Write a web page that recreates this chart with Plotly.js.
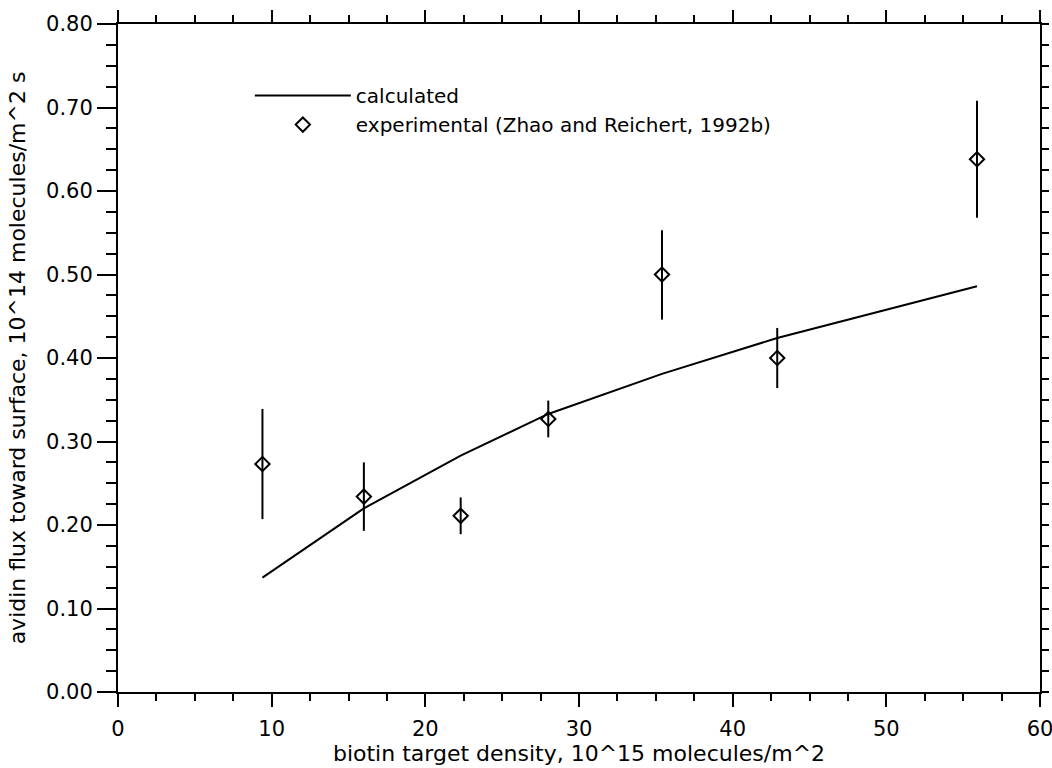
<!DOCTYPE html>
<html>
<head>
<meta charset="utf-8">
<script src="https://cdn.plot.ly/plotly-3.0.1.min.js"></script>
<style>
  html, body { margin: 0; padding: 0; background: #fff; }
  #chart { width: 1052px; height: 768px; }
</style>
</head>
<body>
<div id="chart"></div>
<script>
// Calculated curve
var calcX = [9.4, 16.0, 22.3, 28.0, 35.4, 42.9, 55.9];
var calcY = [0.137, 0.220, 0.283, 0.333, 0.381, 0.424, 0.486];

// Experimental points (Zhao and Reichert, 1992b)
var expX = [9.4, 16.0, 22.3, 28.0, 35.4, 42.9, 55.9];
var expY = [0.273, 0.234, 0.211, 0.327, 0.500, 0.400, 0.638];
var expErrPlus = [0.066, 0.041, 0.022, 0.022, 0.053, 0.036, 0.070];
var expErrMinus = [0.066, 0.041, 0.022, 0.022, 0.054, 0.036, 0.070];

var seriesNames = ["calculated", "experimental (Zhao and Reichert, 1992b)"];
var xTitle = "biotin target density, 10^15 molecules/m^2";
var yTitle = "avidin flux toward surface, 10^14 molecules/m^2 s";

var FONT = "DejaVu Sans, Verdana, sans-serif";

var traces = [
  {
    x: calcX, y: calcY, type: "scatter", mode: "lines",
    name: seriesNames[0],
    line: { color: "#000", width: 2 },
    hoverinfo: "skip"
  },
  {
    x: expX, y: expY, type: "scatter", mode: "markers",
    name: seriesNames[1],
    marker: { symbol: "diamond-open", size: 11, color: "#000", line: { color: "#000", width: 2 } },
    error_y: { type: "data", symmetric: false, array: expErrPlus, arrayminus: expErrMinus,
               color: "#000", thickness: 2, width: 0 },
    hoverinfo: "skip"
  },
  {
    x: [], y: [], type: "scatter", mode: "markers",
    xaxis: "x2", yaxis: "y2", showlegend: false, hoverinfo: "skip"
  }
];

var layout = {
  width: 1052, height: 768,
  paper_bgcolor: "#fff", plot_bgcolor: "#fff",
  margin: { l: 118, r: 12, t: 24, b: 76, pad: 0 },
  font: { family: FONT, color: "#000", size: 21 },
  showlegend: true,
  legend: {
    x: 0.143, y: 0.922, xanchor: "left", yanchor: "top",
    bgcolor: "rgba(0,0,0,0)", borderwidth: 0,
    font: { family: FONT, size: 20, color: "#000" },
    itemwidth: 96, tracegroupgap: 0
  },
  xaxis: {
    range: [0, 60], dtick: 10, tick0: 0,
    showline: true, linecolor: "#000", linewidth: 2,
    ticks: "outside", ticklen: 13, tickwidth: 2, tickcolor: "#000",
    minor: { dtick: 2.5, tick0: 0, ticks: "outside", ticklen: 7, tickwidth: 2, tickcolor: "#000", showgrid: false },
    showgrid: false, zeroline: false, ticklabeloverflow: "allow", ticklabelstandoff: 4,
    tickfont: { family: FONT, size: 21, color: "#000" },
    title: { text: xTitle, font: { family: FONT, size: 22, color: "#000" }, standoff: 0 }
  },
  yaxis: {
    range: [0, 0.8], dtick: 0.1, tick0: 0, tickformat: ".2f",
    showline: true, linecolor: "#000", linewidth: 2,
    ticks: "outside", ticklen: 19, tickwidth: 2, tickcolor: "#000",
    minor: { dtick: 0.025, tick0: 0, ticks: "outside", ticklen: 10, tickwidth: 2, tickcolor: "#000", showgrid: false },
    showgrid: false, zeroline: false, ticklabeloverflow: "allow",
    tickfont: { family: FONT, size: 21, color: "#000" },
    title: { text: yTitle, font: { family: FONT, size: 22, color: "#000" }, standoff: 14 }
  },
  xaxis2: {
    overlaying: "x", side: "top", anchor: "y2",
    range: [0, 60], dtick: 10, tick0: 0,
    showline: true, linecolor: "#000", linewidth: 2,
    ticks: "outside", ticklen: 12, tickwidth: 2, tickcolor: "#000",
    minor: { dtick: 2.5, tick0: 0, ticks: "outside", ticklen: 7, tickwidth: 2, tickcolor: "#000", showgrid: false },
    showgrid: false, zeroline: false, showticklabels: false
  },
  yaxis2: {
    overlaying: "y", side: "right", anchor: "x2",
    range: [0, 0.8], dtick: 0.1, tick0: 0,
    showline: true, linecolor: "#000", linewidth: 2,
    ticks: "outside", ticklen: 7, tickwidth: 2, tickcolor: "#000",
    minor: { dtick: 0.025, tick0: 0, ticks: "outside", ticklen: 7, tickwidth: 2, tickcolor: "#000", showgrid: false },
    showgrid: false, zeroline: false, showticklabels: false
  }
};

Plotly.newPlot("chart", traces, layout, { staticPlot: true, displayModeBar: false });
</script>
</body>
</html>
